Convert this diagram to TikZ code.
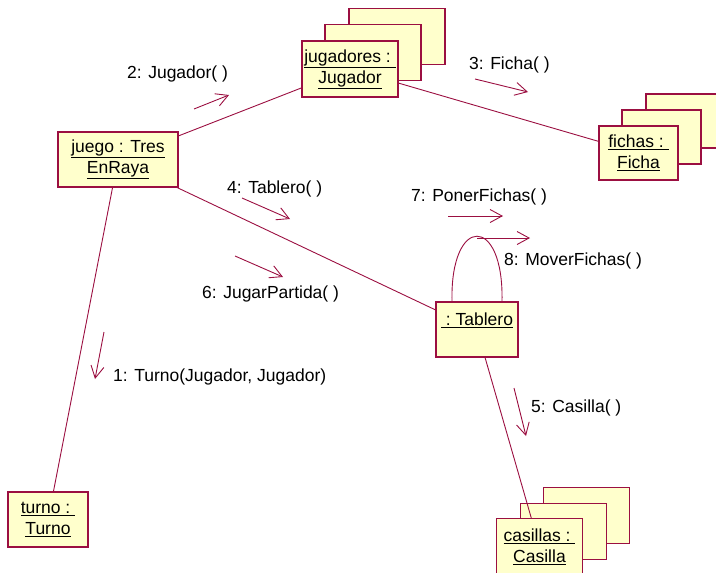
\documentclass[tikz,border=0pt]{standalone}
\usepackage{fontspec}
\setmainfont{Liberation Sans}
\usetikzlibrary{arrows.meta}
\definecolor{umlline}{RGB}{155,15,65}
\definecolor{umlfill}{RGB}{255,255,204}

\begin{document}
\begin{tikzpicture}[x=1pt,y=-1pt,
  obj/.style={draw=umlline, fill=umlfill, line width=1.1pt, align=center,
    inner sep=0pt, font=\fontsize{17.5}{21}\selectfont},
  link/.style={draw=umlline, line width=0.9pt},
  msg/.style={draw=umlline, line width=0.9pt,
    -{Straight Barb[length=12pt,width=13pt]}},
  lbl/.style={anchor=west, inner sep=0pt, font=\fontsize{17.5}{21}\selectfont}]

\useasboundingbox (0,0) rectangle (716,573);
\clip (0,0) rectangle (716,573);

% objects
\node[obj, minimum width=120pt, minimum height=55pt] (juego) at (118,159.5)
  {\underline{juego : Tres}\\\underline{EnRaya}};

% jugadores (multi-object stack)
\node[obj, minimum width=96pt, minimum height=56pt] (jugc) at (397,36.5) {};
\node[obj, minimum width=96pt, minimum height=56pt] (jugb) at (373,52.5) {};
\node[obj, minimum width=96pt, minimum height=56pt] (juga) at (350,69)
  {\underline{jugadores :\ }\\\underline{Jugador}};

% fichas (multi-object stack)
\node[obj, minimum width=79pt, minimum height=54pt] (ficc) at (685.5,121) {};
\node[obj, minimum width=79pt, minimum height=54pt] (ficb) at (661.5,137) {};
\node[obj, minimum width=79pt, minimum height=54pt] (fica) at (638.5,153)
  {\underline{fichas :\ }\\\underline{Ficha}};

% tablero
\node[obj, minimum width=82pt, minimum height=55pt] (tab) at (477,329.5)
  {\underline{\ :\ Tablero}\\~};

% casillas (multi-object stack)
\node[obj, minimum width=86pt, minimum height=56pt] (casc) at (586.5,515.5) {};
\node[obj, minimum width=86pt, minimum height=56pt] (casb) at (563.5,531.5) {};
\node[obj, minimum width=86pt, minimum height=56pt] (casa) at (539.5,546.5)
  {\underline{casillas :\ }\\\underline{Casilla}};

% turno
\node[obj, minimum width=80pt, minimum height=55pt] (turno) at (48,519.5)
  {\underline{turno :\ }\\\underline{Turno}};

% links
\draw[link] (juego) -- (juga);
\draw[link] (juga) -- (fica);
\draw[link] (juego) -- (tab);
\draw[link] (juego) -- (turno);
\draw[link] (tab) -- (casa);
\draw[link] ([xshift=-25pt]tab.north) .. controls +(-2,-87) and +(2,-87) .. ([xshift=25pt]tab.north);

% message arrows
\coordinate (m1a) at (104,332); \coordinate (m1b) at (95,379);
\coordinate (m2a) at (194,109); \coordinate (m2b) at (229,95);
\coordinate (m3a) at (475,79);  \coordinate (m3b) at (528,92);
\coordinate (m4a) at (242,198); \coordinate (m4b) at (290,219);
\coordinate (m5a) at (514,388); \coordinate (m5b) at (526,436);
\coordinate (m6a) at (235,256); \coordinate (m6b) at (283,277);
\coordinate (m7a) at (448,216); \coordinate (m7b) at (503,216);
\coordinate (m8a) at (477,238); \coordinate (m8b) at (530,238);

\draw[msg] (m1a) -- (m1b);
\draw[msg] (m2a) -- (m2b);
\draw[msg] (m3a) -- (m3b);
\draw[msg] (m4a) -- (m4b);
\draw[msg] (m5a) -- (m5b);
\draw[msg] (m6a) -- (m6b);
\draw[msg] (m7a) -- (m7b);
\draw[msg] (m8a) -- (m8b);

% message labels
\node[lbl] (l1) at (113,377) {1: Turno(Jugador, Jugador)};
\node[lbl] (l2) at (127,74)  {2: Jugador( )};
\node[lbl] (l3) at (469,65)  {3: Ficha( )};
\node[lbl] (l4) at (227,189) {4: Tablero( )};
\node[lbl] (l5) at (531,408) {5: Casilla( )};
\node[lbl] (l6) at (202,294) {6: JugarPartida( )};
\node[lbl] (l7) at (411,197) {7: PonerFichas( )};
\node[lbl] (l8) at (504,261) {8: MoverFichas( )};
\end{tikzpicture}
\end{document}
